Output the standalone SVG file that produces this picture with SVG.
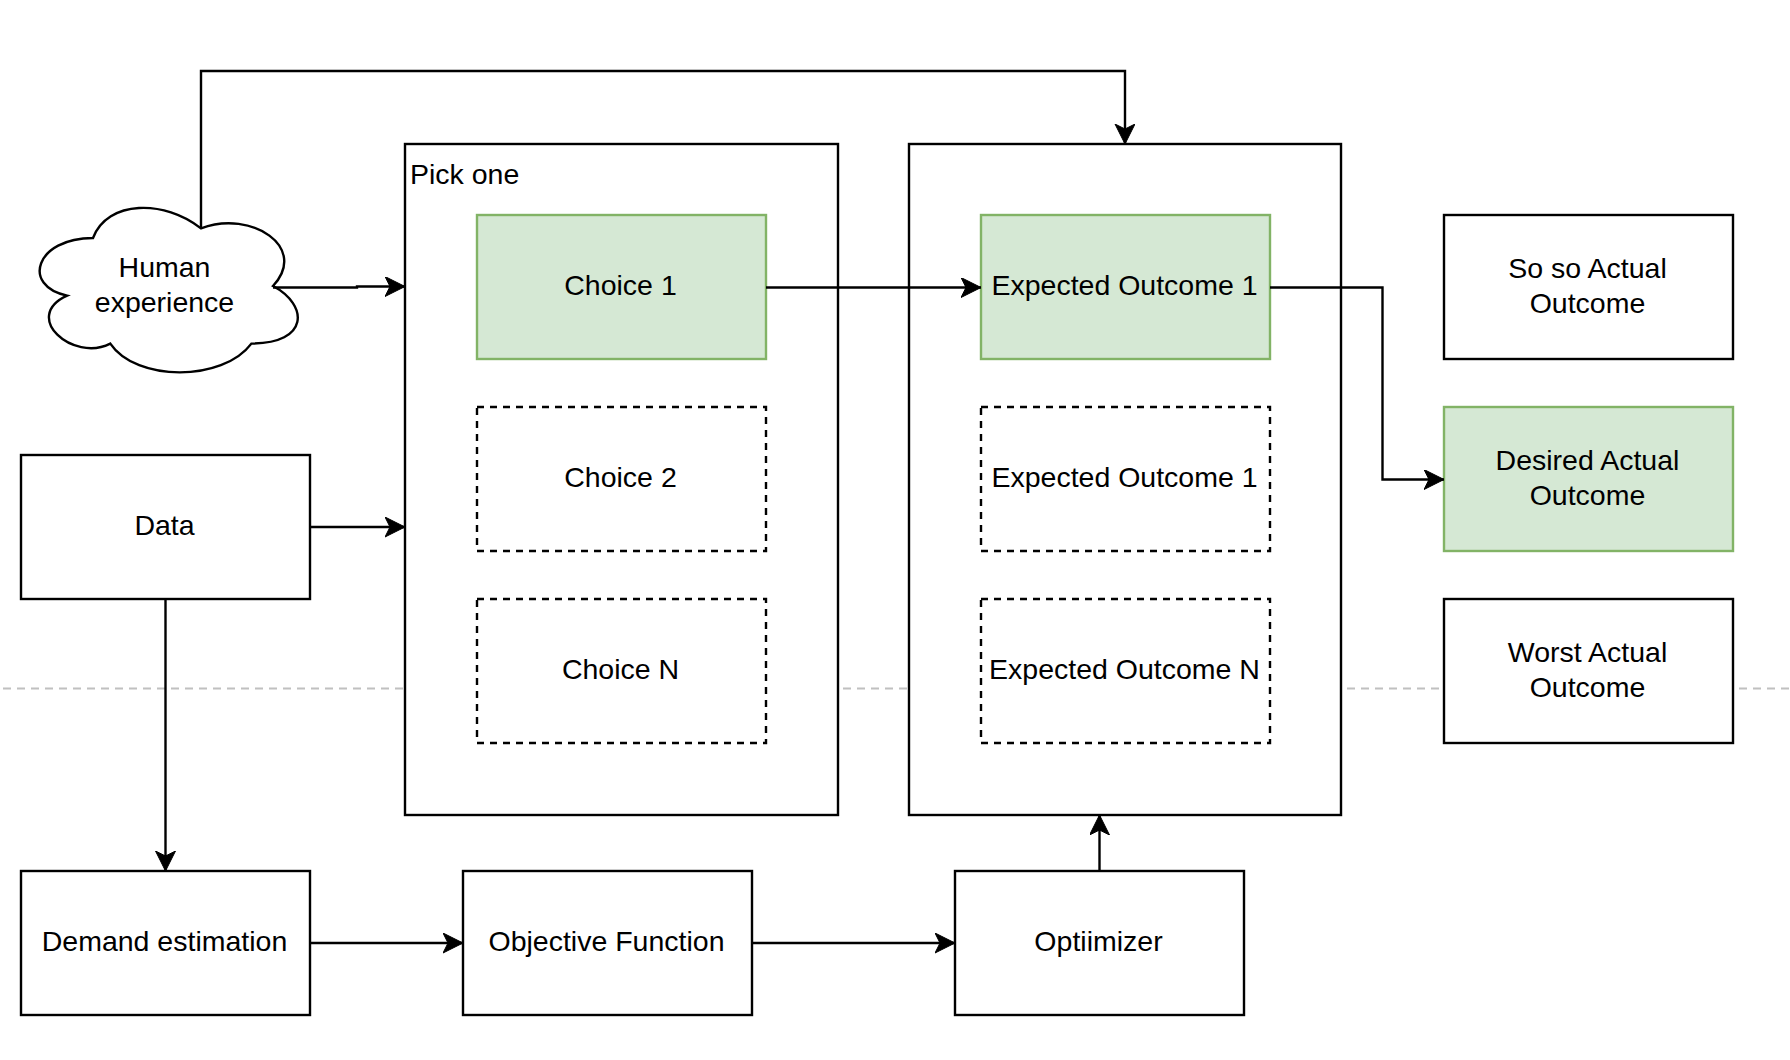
<svg xmlns="http://www.w3.org/2000/svg" width="1790" height="1060" viewBox="0 0 1790 1060">
<style>
  text { font-family: "Liberation Sans", Arial, Helvetica, sans-serif; font-size: 28.5px; fill: #000; }
  .c { text-anchor: middle; }
  .box { fill: #fff; stroke: #000; stroke-width: 2.4; }
  .green { fill: #d5e8d4; stroke: #82b366; stroke-width: 2.4; }
  .dash { fill: #fff; stroke: #000; stroke-width: 2.4; stroke-dasharray: 7 6; }
  .edge { fill: none; stroke: #000; stroke-width: 2.4; marker-end: url(#arrow); }
  .sep { fill: none; stroke: #c0c0c0; stroke-width: 2; stroke-dasharray: 8 6; }
</style>
<defs>
  <marker id="arrow" markerUnits="userSpaceOnUse" markerWidth="24" markerHeight="24" refX="20" refY="10" orient="auto">
    <path d="M0,0 L20,10 L0,20 L5,10 Z" fill="#000" stroke="#000" stroke-width="1"/>
  </marker>
</defs>
<rect width="1790" height="1060" fill="#fff"/>

<g id="separator">
  <line class="sep" x1="3" y1="688.5" x2="1790" y2="688.5"/>
</g>

<g id="pick-one">
  <rect class="box" x="405" y="144" width="433" height="671"/>
  <text x="410" y="184">Pick one</text>
</g>
<g id="outcomes-container">
  <rect class="box" x="909" y="144" width="432" height="671"/>
</g>

<g id="choice-1">
  <rect class="green" x="477" y="215" width="289" height="144"/>
  <text class="c" x="620.5" y="295">Choice 1</text>
</g>
<g id="choice-2">
  <rect class="dash" x="477" y="407" width="289" height="144"/>
  <text class="c" x="620.5" y="487">Choice 2</text>
</g>
<g id="choice-n">
  <rect class="dash" x="477" y="599" width="289" height="144"/>
  <text class="c" x="620.5" y="679">Choice N</text>
</g>

<g id="expected-1">
  <rect class="green" x="981" y="215" width="289" height="144"/>
  <text class="c" x="1124.5" y="295">Expected Outcome 1</text>
</g>
<g id="expected-2">
  <rect class="dash" x="981" y="407" width="289" height="144"/>
  <text class="c" x="1124.5" y="487">Expected Outcome 1</text>
</g>
<g id="expected-n">
  <rect class="dash" x="981" y="599" width="289" height="144"/>
  <text class="c" x="1124.5" y="679">Expected Outcome N</text>
</g>

<g id="so-so">
  <rect class="box" x="1444" y="215" width="289" height="144"/>
  <text class="c" x="1587.5" y="277.5">So so Actual</text>
  <text class="c" x="1587.5" y="312.5">Outcome</text>
</g>
<g id="desired">
  <rect class="green" x="1444" y="407" width="289" height="144"/>
  <text class="c" x="1587.5" y="469.5">Desired Actual</text>
  <text class="c" x="1587.5" y="504.5">Outcome</text>
</g>
<g id="worst">
  <rect class="box" x="1444" y="599" width="289" height="144"/>
  <text class="c" x="1587.5" y="661.5">Worst Actual</text>
  <text class="c" x="1587.5" y="696.5">Outcome</text>
</g>

<g id="human-experience">
  <path class="box" d="M93,238 C35.4,238 21,286 67.1,295.6 C21,316.7 72.8,362.8 110.3,343.6 C136.2,382 222.6,382 251.4,343.6 C309,343.6 309,305.2 273,286 C309,247.6 251.4,209.2 201,228.4 C165,199.6 107.4,199.6 93,238 Z"/>
  <text class="c" x="164.5" y="277">Human</text>
  <text class="c" x="164.5" y="312">experience</text>
</g>

<g id="data">
  <rect class="box" x="21" y="455" width="289" height="144"/>
  <text class="c" x="164.5" y="535">Data</text>
</g>
<g id="demand-estimation">
  <rect class="box" x="21" y="871" width="289" height="144"/>
  <text class="c" x="164.5" y="951">Demand estimation</text>
</g>
<g id="objective-function">
  <rect class="box" x="463" y="871" width="289" height="144"/>
  <text class="c" x="606.5" y="951">Objective Function</text>
</g>
<g id="optimizer">
  <rect class="box" x="955" y="871" width="289" height="144"/>
  <text class="c" x="1098.5" y="951">Optiimizer</text>
</g>

<g id="connectors">
  <path class="edge" d="M201,228.4 V71 H1125 V144"/>
  <path class="edge" d="M273,287.5 H357 V286.5 H405"/>
  <path class="edge" d="M310,527 H405"/>
  <path class="edge" d="M165.5,599 V871"/>
  <path class="edge" d="M766,287.5 H981"/>
  <path class="edge" d="M1270,287.5 H1382.5 V479.5 H1444"/>
  <path class="edge" d="M310,943 H463"/>
  <path class="edge" d="M752,943 H955"/>
  <path class="edge" d="M1099.5,871 V815"/>
</g>
</svg>
